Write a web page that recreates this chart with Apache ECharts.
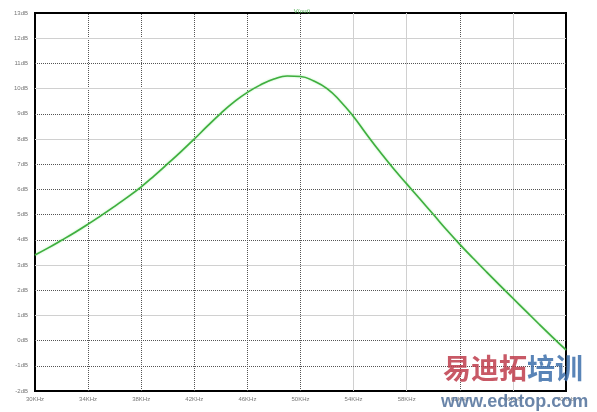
<!DOCTYPE html>
<html>
<head>
<meta charset="utf-8">
<script src="https://cdn.jsdelivr.net/npm/echarts@6/dist/echarts.min.js"></script>
<style>
html,body{margin:0;padding:0;background:#fff;}
#c{width:597px;height:412px;}
</style>
</head>
<body>
<div id="c"></div>
<script>
// Frequency in kHz
var freqs = [30,31,32,33,34,35,36,37,38,39,40,41,42,43,44,45,46,47,48,49,50,
             51,52,53,54,55,56,57,58,59,60,61,62,63,64,65,66,67,68,69,70];
// V(out) in dB
var vout = [3.40,3.68,3.98,4.29,4.62,4.97,5.33,5.70,6.10,6.55,7.02,7.50,8.00,8.52,9.02,9.47,9.85,10.15,10.38,10.50,10.48,
            10.30,10.00,9.50,8.88,8.17,7.48,6.83,6.22,5.62,5.01,4.40,3.82,3.27,2.73,2.20,1.68,1.16,0.64,0.13,-0.37];
var seriesName = 'V(out)';
// grid line positions (as they appear in the reference)
var dottedX = [34,38,42,46,50,62];
var solidX = [54,58,66];
var dottedY = [11,9,7,6,5,4,2,0,-1];
var solidY = [12,10,8,3,1];

var dotted = {type:'dotted', color:'#555', width:1};
var solid = {type:'solid', color:'#d0d0d0', width:1};
var marks = [];
dottedX.forEach(function(v){ marks.push({xAxis:v, lineStyle:dotted}); });
solidX.forEach(function(v){ marks.push({xAxis:v, lineStyle:solid}); });
dottedY.forEach(function(v){ marks.push({yAxis:v, lineStyle:dotted}); });
solidY.forEach(function(v){ marks.push({yAxis:v, lineStyle:solid}); });

var chart = echarts.init(document.getElementById('c'), null, {renderer:'canvas'});
chart.setOption({
  animation:false,
  backgroundColor:'#fff',
  title:{text:seriesName, left:297, top:3, textAlign:'center',
    textStyle:{fontSize:6, fontWeight:'normal', color:'#4caf50', fontFamily:'Liberation Sans'}},
  grid:{left:35, right:31, top:13, bottom:21, show:true, borderColor:'#000', borderWidth:2, backgroundColor:'#fff'},
  xAxis:{type:'value', min:30, max:70, interval:4,
    axisLine:{show:false}, axisTick:{show:false}, splitLine:{show:false},
    axisLabel:{fontSize:6, color:'#777', margin:5, fontFamily:'Liberation Sans',
      formatter:function(v){return v+'KHz';}}},
  yAxis:{type:'value', min:-2, max:13, interval:1,
    axisLine:{show:false}, axisTick:{show:false}, splitLine:{show:false},
    axisLabel:{fontSize:6, color:'#777', margin:7, fontFamily:'Liberation Sans',
      formatter:function(v){return v+'dB';}}},
  graphic:[
    {type:'text', left:443, top:354, z:100, style:{text:'易迪拓', fill:'rgba(190,60,75,0.85)', font:'bold 28px "Noto Sans CJK SC"'}},
    {type:'text', left:527, top:354, z:100, style:{text:'培训', fill:'rgba(60,110,170,0.85)', font:'bold 28px "Noto Sans CJK SC"'}},
    {type:'text', left:441, top:393, z:100, style:{text:'www.edatop.com', fill:'rgba(90,120,160,0.9)', font:'bold 18px "Liberation Sans"'}}
  ],
  series:[{
    name:seriesName, type:'line', showSymbol:false, smooth:true,
    data:freqs.map(function(f,i){return [f, vout[i]];}),
    lineStyle:{color:'#3fae3f', width:1.6, shadowColor:'rgba(120,230,120,0.6)', shadowBlur:2},
    z:5,
    markLine:{silent:true, symbol:'none', label:{show:false}, z:1, data:marks, animation:false}
  }]
});
</script>
</body>
</html>
